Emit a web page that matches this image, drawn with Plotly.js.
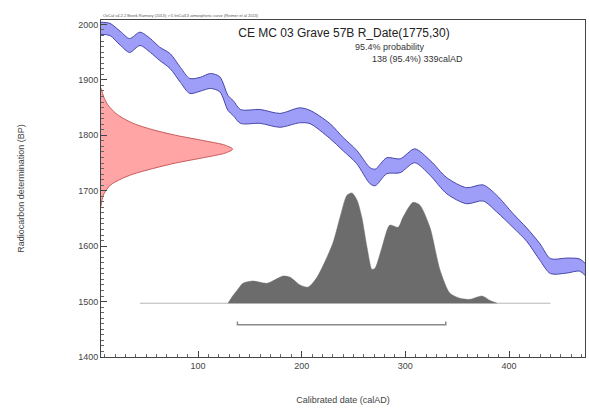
<!DOCTYPE html>
<html>
<head>
<meta charset="utf-8">
<script src="https://cdn.plot.ly/plotly-3.0.1.min.js"></script>
<style>html,body{margin:0;padding:0;background:#fff;}#chart{width:589px;height:416px;}</style>
</head>
<body>
<div id="chart"></div>
<script>
// Calibration curve (IntCal13) : calendar year, mean BP, 1-sigma
const calYears = [6, 15, 25, 34, 44, 54, 63, 73, 83, 92, 102, 112, 121, 129, 134, 141, 160, 179, 198, 208, 227, 240, 253, 266, 271, 282, 295, 309, 324, 340, 359, 375, 388, 404, 417, 430, 440, 456, 468, 474];
const curveBP = [1993, 1991, 1975, 1962, 1974, 1962, 1947, 1934, 1909, 1889, 1892, 1898, 1892, 1858, 1849, 1834, 1834, 1827, 1836, 1833, 1808, 1784, 1761, 1727, 1724, 1745, 1745, 1763, 1741, 1709, 1691, 1696, 1677, 1646, 1621, 1589, 1564, 1565, 1566, 1557];
const curveSigma = [11, 11, 12.5, 12.5, 12, 12.5, 12, 13.5, 13.5, 13.5, 12.5, 13.5, 13.5, 13.5, 13.5, 12.5, 12.5, 12.5, 13.5, 12, 13.5, 12, 12, 14.5, 15, 14.5, 12.5, 12.5, 13.5, 14.5, 14.5, 14.5, 15, 12.5, 12, 15, 13.5, 13.5, 11, 11];

// Measurement R_Date(1775,30): BP level and plotted density (cal-year units)
const measBP = [1885, 1870, 1855, 1840, 1830, 1820, 1810, 1800, 1790, 1782, 1775, 1768, 1760, 1750, 1740, 1730, 1720, 1710, 1695, 1682, 1672];
const measDensity = [0, 2.5, 6.5, 14, 22, 33, 50, 72, 100, 120, 127, 120, 100, 72, 50, 31, 18, 9, 3, 0.8, 0];

// Calibrated distribution: calendar year and height (BP units above baseline)
const postCal = [129, 133, 137.6, 143.4, 153, 166.6, 182, 188.8, 198.4, 206, 214.8, 230, 237, 243.7, 248.5, 253.4, 258, 263, 267.8, 270.7, 277.5, 285, 293, 297.7, 307.4, 314, 323.7, 333.4, 343, 352.7, 362.3, 374, 381.6, 388.4];
const postProb = [0, 12, 23, 36, 40, 36, 49, 47, 33, 29, 47, 108, 155, 195, 199, 186, 155, 101, 61, 63, 101, 141, 137, 155, 182, 177, 137, 60, 18, 9, 7, 13, 5, 0];
const postBaseBP = 1497;
const baseLineCal = [44, 440];

// 95.4% range
const rangeFrom = 138, rangeTo = 339;
const rangeBP = 1458, rangeTickBP = 1464;

const xTicks = [100, 200, 300, 400];
const yTicks = [1400, 1500, 1600, 1700, 1800, 1900, 2000];
const xRange = [6.4, 473.3];
const yRange = [1400, 2008];

const upper = curveBP.map((v, i) => v + curveSigma[i]);
const lower = curveBP.map((v, i) => v - curveSigma[i]);

const traces = [
  { x: calYears, y: lower, mode: 'lines', line: {color: 'rgb(70,70,170)', width: 1, shape: 'spline', smoothing: 0.8}, hoverinfo: 'skip', showlegend: false },
  { x: calYears, y: upper, mode: 'lines', fill: 'tonexty', fillcolor: 'rgb(158,158,248)', line: {color: 'rgb(70,70,170)', width: 1, shape: 'spline', smoothing: 0.8}, hoverinfo: 'skip', showlegend: false },
  { x: measDensity.map(d => xRange[0] + d), y: measBP, mode: 'lines', fill: 'toself', fillcolor: 'rgb(255,165,165)', line: {color: 'rgb(200,90,90)', width: 1, shape: 'spline', smoothing: 0.8}, hoverinfo: 'skip', showlegend: false },
  { x: baseLineCal, y: [postBaseBP, postBaseBP], mode: 'lines', line: {color: '#b8b8b8', width: 1}, hoverinfo: 'skip', showlegend: false },
  { x: postCal, y: postProb.map(p => postBaseBP + p), mode: 'lines', fill: 'toself', fillcolor: 'rgb(108,108,108)', line: {color: 'rgb(108,108,108)', width: 0.5, shape: 'spline', smoothing: 0.7}, hoverinfo: 'skip', showlegend: false },
  { x: [rangeFrom, rangeFrom, rangeTo, rangeTo], y: [rangeTickBP, rangeBP, rangeBP, rangeTickBP], mode: 'lines', line: {color: '#8a8a8a', width: 1.5}, hoverinfo: 'skip', showlegend: false }
];

const font = 'Liberation Sans, Arial, sans-serif';
const layout = {
  width: 589, height: 416,
  margin: {l: 101, r: 4, t: 20, b: 59},
  paper_bgcolor: '#fff', plot_bgcolor: '#fff',
  font: {family: font, color: '#444'},
  showlegend: false,
  title: {text: 'CE MC 03 Grave 57B R_Date(1775,30)', x: 344/589, xanchor: 'center', y: 1 - 33/416, yanchor: 'middle', yref: 'container', xref: 'container', font: {size: 12, color: '#222', family: font}},
  xaxis: {
    range: xRange, tickmode: 'array', tickvals: xTicks, ticks: 'inside', ticklen: 6, tickcolor: '#444', tickwidth: 1,
    showline: true, linecolor: '#444', linewidth: 1, mirror: true, showgrid: false, zeroline: false,
    minor: {tickmode: 'linear', tick0: 0, dtick: 10, ticks: 'inside', ticklen: 3, tickcolor: '#666', showgrid: false},
    tickfont: {size: 9, color: '#444'},
    title: {text: 'Calibrated date (calAD)', font: {size: 9, color: '#444'}, standoff: 26}
  },
  yaxis: {
    range: yRange, tickmode: 'array', tickvals: yTicks, ticks: 'inside', ticklen: 6, tickcolor: '#444', tickwidth: 1,
    showline: true, linecolor: '#444', linewidth: 1, mirror: true, showgrid: false, zeroline: false,
    minor: {tickmode: 'linear', tick0: 0, dtick: 10, ticks: 'inside', ticklen: 3, tickcolor: '#666', showgrid: false},
    tickfont: {size: 9, color: '#444'},
    title: {text: 'Radiocarbon determination (BP)', font: {size: 9, color: '#444'}, standoff: 52}
  },
  annotations: [
    {text: '95.4% probability', xref: 'paper', yref: 'paper', x: (353-101)/484, y: (357-47)/337, xanchor: 'left', yanchor: 'middle', showarrow: false, font: {size: 9, color: '#333', family: font}},
    {text: '138 (95.4%) 339calAD', xref: 'paper', yref: 'paper', x: (370-101)/484, y: (357-59)/337, xanchor: 'left', yanchor: 'middle', showarrow: false, font: {size: 9, color: '#333', family: font}},
    {text: 'OxCal v4.2.2 Bronk Ramsey (2013); r:5 IntCal13 atmospheric curve (Reimer et al 2013)', xref: 'paper', yref: 'paper', x: 0, y: (357-15)/337, xanchor: 'left', yanchor: 'middle', showarrow: false, font: {size: 4, color: '#555', family: font}}
  ]
};

Plotly.newPlot('chart', traces, layout, {staticPlot: true, displayModeBar: false});
</script>
</body>
</html>
